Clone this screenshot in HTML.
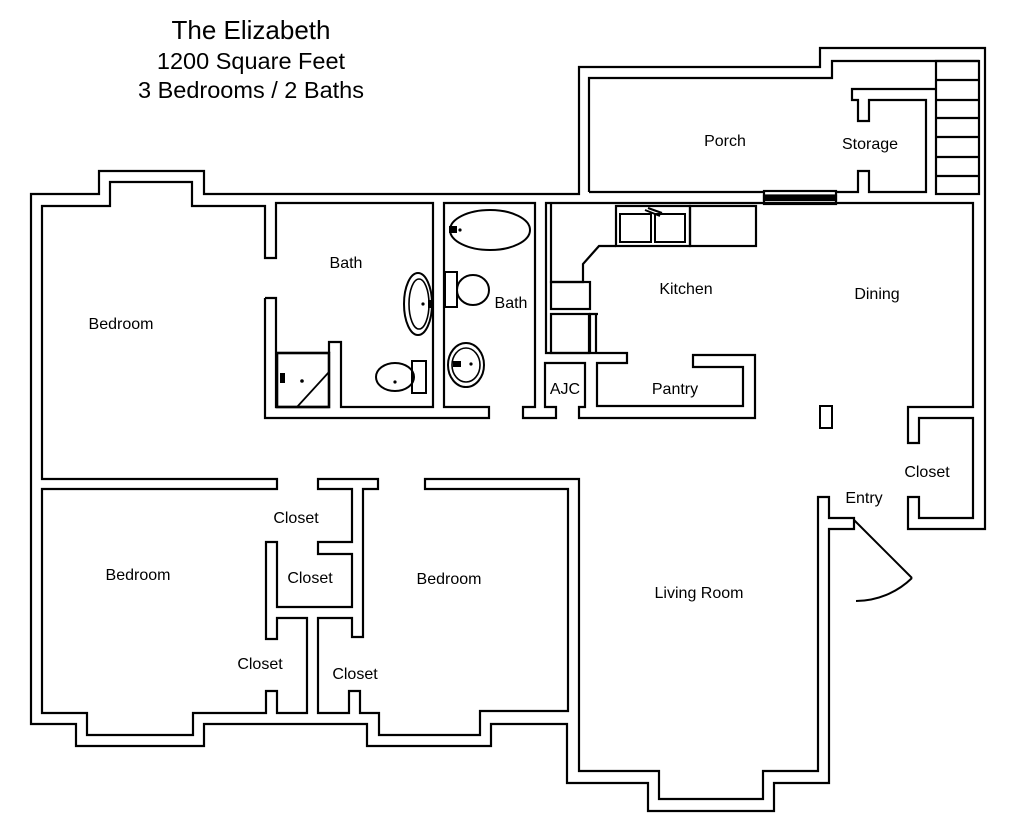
<!DOCTYPE html>
<html><head><meta charset="utf-8"><style>
html,body{margin:0;padding:0;background:#fff;width:1024px;height:834px;overflow:hidden}
svg{display:block}
text{font-family:"Liberation Sans",sans-serif;fill:#000}
</style></head><body>
<svg width="1024" height="834" viewBox="0 0 1024 834" xmlns="http://www.w3.org/2000/svg">
<g fill="none" stroke="#000" stroke-width="2.2" stroke-linejoin="miter">
<path d="M265,298 L265,418 L489,418 L489,407 L444,407 L444,203 L535,203 L535,407 L523,407 L523,418 L556,418 L556,407 L545,407 L545,363 L585,363 L585,407 L579,407 L579,418 L755,418 L755,355 L693,355 L693,367 L743,367 L743,406 L597,406 L597,363 L627,363 L627,353 L546,353 L546,203 L973,203 L973,407 L908,407 L908,443 L919,443 L919,418 L973,418 L973,518 L919,518 L919,497 L908,497 L908,529 L985,529 L985,48 L820,48 L820,67 L579,67 L579,194 L204,194 L204,171 L99,171 L99,194 L31,194 L31,724 L76,724 L76,746 L204,746 L204,724 L367,724 L367,746 L491,746 L491,724 L567,724 L567,783 L648,783 L648,811 L774,811 L774,783 L829,783 L829,529 L854,529 L854,518 L829,518 L829,497 L818,497 L818,771 L763,771 L763,799 L659,799 L659,771 L579,771 L579,479 L425,479 L425,489 L568,489 L568,711 L480,711 L480,735 L379,735 L379,713 L360,713 L360,691 L349,691 L349,713 L318,713 L318,618 L352,618 L352,637 L363,637 L363,489 L378,489 L378,479 L318,479 L318,489 L352,489 L352,542 L318,542 L318,554 L352,554 L352,607 L277,607 L277,542 L266,542 L266,639 L277,639 L277,618 L307,618 L307,713 L277,713 L277,691 L266,691 L266,713 L193,713 L193,735 L87,735 L87,713 L42,713 L42,489 L277,489 L277,479 L42,479 L42,206 L110,206 L110,182 L192,182 L192,206 L265,206 L265,258 L276,258 L276,203 L433,203 L433,407 L341,407 L341,342 L329,342 L329,353"/>
<path d="M265,298 L276,298 L276,407 L329,407"/>
<path d="M589,192 L589,78 L832,78 L832,61 L979,61"/>
<path d="M589,192 L764,192 M836,192 L858,192 L858,171 L869,171 L869,192 L926,192 L926,100 L869,100 L869,121 L858,121 L858,100 L852,100 L852,89 L936,89"/>
<rect x="936" y="61" width="43" height="133"/>
<path d="M936,80 H979 M936,100 H979 M936,118 H979 M936,137 H979 M936,157 H979 M936,176 H979"/>
<rect x="764" y="191" width="72" height="13"/>
<rect x="764" y="195.5" width="72" height="4.5" fill="#000"/>
<path d="M551,203 L551,282 L583,282 L583,264 L599,246 L616,246"/>
<rect x="551" y="282" width="39" height="27"/>
<rect x="551" y="314" width="38" height="39"/>
<path d="M590,314 L590,353 M596,314 L596,353 M589,314 L598,314"/>
<rect x="616" y="206" width="74" height="40"/>
<rect x="690" y="206" width="66" height="40"/>
<rect x="620" y="214" width="31" height="28" stroke-width="2"/>
<rect x="655" y="214" width="30" height="28" stroke-width="2"/>
<path d="M645,210 L660,216 M648,208 L662,213" stroke-width="2"/>
<rect x="820" y="406" width="12" height="22" stroke-width="2"/>
<rect x="277" y="353" width="52" height="54" stroke-width="2.6"/>
<path d="M297,407 L329,372" stroke-width="1.8"/>
<ellipse cx="418" cy="304" rx="14" ry="31" stroke-width="2"/>
<ellipse cx="419" cy="304" rx="10" ry="25" stroke-width="1.6"/>
<ellipse cx="395" cy="377" rx="19" ry="14" stroke-width="2"/>
<rect x="412" y="361" width="14" height="32" stroke-width="2"/>
<ellipse cx="490" cy="230" rx="40" ry="20" stroke-width="2"/>
<rect x="445" y="272" width="12" height="35" stroke-width="2"/>
<ellipse cx="473" cy="290" rx="16" ry="15" stroke-width="2"/>
<ellipse cx="466" cy="365" rx="18" ry="22" stroke-width="2"/>
<ellipse cx="466" cy="365" rx="14" ry="17" stroke-width="1.6"/>
<path d="M854,520 L912,578 M912,578 A81,81 0 0 1 856,601" stroke-width="2"/>
</g>
<g fill="#000">
<circle cx="423" cy="304" r="1.6"/><circle cx="395" cy="382" r="1.6"/><circle cx="302" cy="381" r="1.8"/>
<circle cx="460" cy="230" r="1.6"/><circle cx="471" cy="364" r="1.6"/>
<rect x="428" y="300" width="6" height="8"/><rect x="449" y="226" width="8" height="7"/><rect x="453" y="361" width="8" height="6"/><rect x="280" y="373" width="5" height="10"/>
</g>
<g text-anchor="middle" dominant-baseline="middle" font-size="16">
<text x="251" y="32" font-size="26">The Elizabeth</text>
<text x="251" y="63" font-size="23.5">1200 Square Feet</text>
<text x="251" y="92" font-size="23.5">3 Bedrooms / 2 Baths</text>
<text x="725" y="142">Porch</text>
<text x="870" y="145">Storage</text>
<text x="346" y="264">Bath</text>
<text x="511" y="304">Bath</text>
<text x="686" y="290">Kitchen</text>
<text x="877" y="295">Dining</text>
<text x="121" y="325">Bedroom</text>
<text x="565" y="390">AJC</text>
<text x="675" y="390">Pantry</text>
<text x="927" y="473">Closet</text>
<text x="864" y="499">Entry</text>
<text x="296" y="519">Closet</text>
<text x="138" y="576">Bedroom</text>
<text x="310" y="579">Closet</text>
<text x="449" y="580">Bedroom</text>
<text x="699" y="594">Living Room</text>
<text x="260" y="665">Closet</text>
<text x="355" y="675">Closet</text>
</g>
</svg>
</body></html>
